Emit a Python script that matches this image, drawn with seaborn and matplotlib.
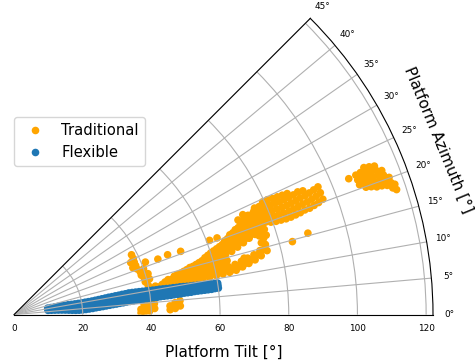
import numpy as np
import pandas as pd
import matplotlib
matplotlib.use("Agg")
import matplotlib.pyplot as plt
import seaborn as sns

# ---------------- data (tilt in degrees = radius, azimuth in degrees = angle) ----------------
# Flexible platforms: one tilt value with a low / mid / high azimuth reading
flex_tilt = [10, 11, 12, 13, 14, 15, 16, 17, 18, 19, 20, 21, 22, 23, 24, 25, 26, 27, 28, 29,
             30, 31, 32, 33, 34, 35, 36, 37, 38, 39, 40, 41, 42, 43, 44, 45, 46, 47, 48, 49,
             50, 51, 52, 53, 54, 55, 56, 57, 58, 59, 60]
flex_az_low = [7.1, 6.7, 6.3, 5.9, 5.5, 5.1, 4.7, 4.3, 4.0, 3.9, 3.9, 4.1, 4.3, 4.5, 4.8, 5.0, 5.2, 5.4, 5.6, 5.8,
               5.9, 6.1, 6.2, 6.4, 6.5, 6.6, 6.7, 6.7, 6.8, 6.8, 6.9, 6.9, 6.9, 7.0, 7.0, 7.0, 7.0, 7.1, 7.1, 7.1,
               7.2, 7.2, 7.2, 7.3, 7.3, 7.3, 7.3, 7.3, 7.3, 7.4, 7.4]
flex_az_mid = [9.0, 8.7, 8.5, 8.2, 8.0, 7.7, 7.5, 7.2, 7.0, 6.9, 6.9, 7.0, 7.1, 7.2, 7.4, 7.5, 7.7, 7.9, 8.0, 8.1,
               8.2, 8.3, 8.4, 8.5, 8.6, 8.6, 8.6, 8.6, 8.5, 8.5, 8.5, 8.5, 8.4, 8.4, 8.4, 8.4, 8.3, 8.3, 8.3, 8.3,
               8.3, 8.2, 8.2, 8.2, 8.2, 8.1, 8.1, 8.1, 8.1, 8.1, 8.1]
flex_az_high = [10.9, 10.8, 10.7, 10.6, 10.5, 10.4, 10.3, 10.1, 10.0, 9.9, 9.9, 9.9, 9.9, 9.9, 10.0, 10.1, 10.2, 10.3, 10.4, 10.4,
                10.5, 10.5, 10.6, 10.6, 10.7, 10.6, 10.5, 10.4, 10.3, 10.2, 10.1, 10.0, 9.9, 9.9, 9.8, 9.7, 9.6, 9.6, 9.5, 9.5,
                9.4, 9.3, 9.2, 9.2, 9.1, 9.0, 9.0, 8.9, 8.9, 8.8, 8.8]

# Traditional platforms: tilt value and the azimuth readings observed at that tilt
trad_tilt = [37.0, 38.0, 39.5, 41.0, 45.5, 47.0, 48.5,
             38.4, 37.2, 38.2, 38.8, 39.4, 40.0, 40.8,
             41.2, 44.9, 48.0, 51.9, 60.9, 63.2,
             42, 44, 46, 48, 50, 52, 54, 56, 58, 60, 62, 64, 66, 68, 70, 72, 74, 76,
             43, 45, 47, 49, 51, 53, 55, 57, 59, 61, 63, 65, 67, 69, 71, 73, 75, 77,
             70.8, 72.7, 76.6, 83.8, 88.8,
             78, 79.5, 81, 82.5, 84, 85.5, 87, 88.5, 90, 91.5, 93, 94.5, 96,
             105.2, 107.5, 109, 110.5, 112, 113.5, 115, 116.3, 117.2]
trad_azimuth = [[0.8, 2.4], [1.0, 3.0, 4.6], [1.5, 3.5, 5.5], [2.5, 4.5, 6.5], [1.8, 3.2], [2.2, 4.2], [3.0, 4.8],
                [27.0, 25.2], [24.0, 21.5], [23.6, 22.0, 20.4], [18.8, 17.2], [15.6, 14.0], [12.4, 19.5], [10.8, 17.0, 14.8],
                [21.8], [21.1], [21.3], [20.8], [20.8], [20.7],
                [10.0, 11.4], [10.0, 11.5], [10.2, 11.8, 12.8], [10.3, 11.9, 13.5], [10.4, 12.0, 13.6, 14.0],
                [10.5, 12.0, 13.5, 14.6], [10.6, 12.1, 13.6, 15.1], [10.7, 12.2, 13.7, 15.2, 15.7],
                [10.8, 12.3, 13.8, 15.3, 16.6], [10.9, 12.4, 13.9, 15.4, 16.9, 17.4],
                [11.0, 12.5, 14.0, 15.5, 17.0, 18.0], [11.1, 12.6, 14.2, 15.8, 17.2, 18.6],
                [11.3, 12.8, 16.2, 17.6, 19.0, 19.6], [11.8, 13.2, 16.8, 18.2, 19.4, 20.5],
                [12.3, 13.6, 17.4, 18.8, 20.0, 21.2], [12.8, 14.0, 18.0, 19.3, 20.6, 21.8, 22.3],
                [13.4, 14.6, 18.4, 19.6, 20.8, 22.0, 23.0], [14.2, 15.6, 17.0, 18.6, 19.8, 21.0, 22.2, 23.3],
                [10.8], [10.8, 12.2], [11.0, 12.6], [11.1, 12.6, 13.8], [11.2, 12.8, 14.3],
                [11.3, 12.8, 14.3, 15.0], [11.4, 12.9, 14.4, 15.4], [11.5, 13.0, 14.5, 16.0],
                [11.6, 13.1, 14.6, 16.1, 17.0], [11.7, 13.2, 14.7, 16.2, 17.7], [12.0, 13.4, 15.0, 16.4, 17.8, 18.3],
                [11.6, 16.8, 18.2, 19.3], [12.0, 17.2, 18.6, 19.8, 20.3], [12.5, 13.8, 17.8, 19.0, 20.2, 21.0],
                [13.0, 18.2, 19.5, 20.8, 21.8], [13.8, 18.7, 20.0, 21.2, 22.5],
                [14.6, 16.2, 17.8, 19.2, 20.4, 21.6, 22.8], [17.5, 18.8, 20.0, 21.2, 22.5, 23.5],
                [22.9], [23.6], [23.9], [14.7], [15.5],
                [20.2, 21.4, 22.6, 23.8], [19.8, 21.0, 22.2, 23.4, 24.4], [19.6, 20.8, 22.0, 23.2, 24.4],
                [19.5, 20.7, 21.9, 23.1, 24.2], [19.4, 20.6, 21.8, 23.0, 24.1], [19.4, 20.6, 21.8, 23.0, 24.0],
                [19.5, 20.7, 21.9, 23.1, 23.9], [19.6, 20.8, 22.0, 23.2], [19.8, 21.0, 22.2, 23.4],
                [19.8, 21.0, 22.2, 23.2], [20.0, 21.2, 22.4], [20.2, 21.4, 22.6], [20.5, 21.7, 22.8],
                [22.1], [20.6, 21.4, 22.2], [19.9, 20.7, 21.5, 22.3], [19.7, 20.5, 21.3, 22.1, 22.8],
                [19.4, 20.2, 21.0, 21.8, 22.6], [19.3, 20.1, 20.9, 21.7, 22.4], [19.1, 19.9, 20.7, 21.4],
                [18.5, 19.3, 20.1], [18.1, 18.9]]

categories = ["Traditional", "Flexible"]
colors = ["#FFA500", "#1f77b4"]
r_ticks = [0, 20, 40, 60, 80, 100, 120]
theta_ticks = [0, 5, 10, 15, 20, 25, 30, 35, 40, 45]

# ---------------- table ----------------
rows = []
for t, azs in zip(trad_tilt, trad_azimuth):
    for a in azs:
        rows.append(("Traditional", t, a))
for t, lo, mi, hi in zip(flex_tilt, flex_az_low, flex_az_mid, flex_az_high):
    for a in (lo, mi, hi):
        rows.append(("Flexible", t, a))
df = pd.DataFrame(rows, columns=["Platform", "Tilt", "Azimuth"])
df["theta"] = np.deg2rad(df["Azimuth"])

# ---------------- plot ----------------
W, H = 475, 364
fig = plt.figure(figsize=(W / 100, H / 100), dpi=100)
# square axes box whose wedge (0-45 deg) spans x 14..433 px and y 18..315 px
side = 419
cy = (18 + 315) / 2
ax = fig.add_axes([14 / W, (H - (cy + side / 2)) / H, side / W, side / H], projection="polar")
sns.scatterplot(data=df, x="theta", y="Tilt", hue="Platform", hue_order=categories,
                palette=colors, s=30, linewidth=0, edgecolor="none", ax=ax)
ax.set_thetamin(0)
ax.set_thetamax(45)
ax.set_rlim(0, 122)
ax.set_rticks(r_ticks)
ax.set_thetagrids(theta_ticks)
ax.tick_params(labelsize=6.4)
ax.tick_params(axis="x", pad=1.5)
ax.set_xlabel("")
ax.set_ylabel("")

fig.text(224 / W, 1 - 352 / H, "Platform Tilt [°]", ha="center", va="center", fontsize=11)
fig.text(438 / W, 1 - 140 / H, "Platform Azimuth [°]", ha="center", va="center",
         rotation=-67.5, rotation_mode="anchor", fontsize=11)

sns.move_legend(ax, loc="upper left", bbox_to_anchor=(14 / W, 1 - 117 / H),
                bbox_transform=fig.transFigure, title=None, frameon=True,
                fontsize=10.6, borderaxespad=0)

fig.savefig("out.png", dpi=100)
